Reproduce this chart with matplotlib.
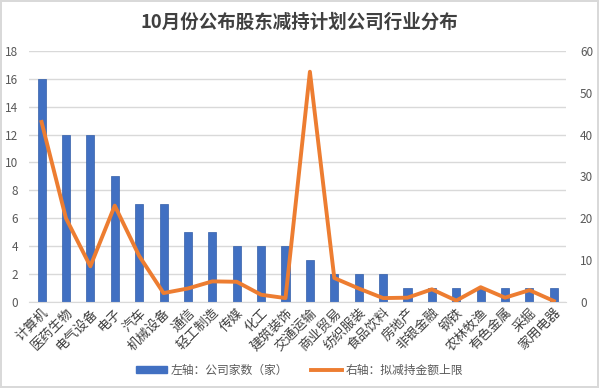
import matplotlib
matplotlib.use("Agg")
import matplotlib.pyplot as plt
from matplotlib.lines import Line2D
from matplotlib.patches import Patch

plt.rcParams['font.family'] = ['Noto Sans CJK SC', 'DejaVu Sans']

categories = ["计算机", "医药生物", "电气设备", "电子", "汽车", "机械设备", "通信", "轻工制造",
              "传媒", "化工", "建筑装饰", "交通运输", "商业贸易", "纺织服装", "食品饮料", "房地产",
              "非银金融", "钢铁", "农林牧渔", "有色金属", "采掘", "家用电器"]
company_counts = [16, 12, 12, 9, 7, 7, 5, 5, 4, 4, 4, 3, 2, 2, 2, 1, 1, 1, 1, 1, 1, 1]
reduction_upper = [43, 20, 8.5, 23, 11, 2.1, 3.2, 4.9, 4.8, 1.7, 0.9, 55, 5.7, 3.2, 0.9, 1.0,
                   3.0, 0.3, 3.5, 1.0, 2.8, 0.2]
left_ticks = [0, 2, 4, 6, 8, 10, 12, 14, 16, 18]
right_ticks = [0, 10, 20, 30, 40, 50, 60]

fig = plt.figure(figsize=(5.99, 3.88), dpi=100)
fig.patch.set_facecolor('white')
fig.patch.set_edgecolor('#d9d9d9')
fig.patch.set_linewidth(1.5)

ax = fig.add_axes([0.049, 0.222, 0.896, 0.647])
x = list(range(len(categories)))
ax.bar(x, company_counts, width=0.33, color='#4170C2', edgecolor='#345ea8', linewidth=0.5, zorder=2)
ax.set_ylim(0, 18)
ax.set_yticks(left_ticks)
ax.set_xlim(-0.5, len(categories) - 0.5)
ax.grid(axis='y', color='#d9d9d9', linewidth=1, zorder=0)
ax.set_axisbelow(True)
for s in ['top', 'right', 'left']:
    ax.spines[s].set_visible(False)
ax.spines['bottom'].set_color('#d9d9d9')
ax.tick_params(axis='y', length=0, labelsize=8.5, labelcolor='#595959', pad=8)
ax.tick_params(axis='x', length=0, labelsize=9.5, labelcolor='#404040', pad=3)
ax.set_xticks(x)
ax.set_xticklabels(categories, rotation=45, ha='right', rotation_mode='anchor')

ax2 = ax.twinx()
ax2.plot(x, reduction_upper, color='#ED7D31', linewidth=2.8, zorder=3, solid_joinstyle='round')
ax2.set_ylim(0, 60)
ax2.set_yticks(right_ticks)
for s in ['top', 'right', 'left', 'bottom']:
    ax2.spines[s].set_visible(False)
ax2.tick_params(axis='y', length=0, labelsize=8.5, labelcolor='#595959', pad=10)

fig.text(0.5, 0.943, "10月份公布股东减持计划公司行业分布", ha='center', va='center',
         fontsize=13.3, fontweight='bold', color='#404040')

handles = [Patch(facecolor='#4170C2', edgecolor='#4170C2'),
           Line2D([0], [0], color='#ED7D31', linewidth=2.8)]
labels = ["左轴：公司家数（家）", "右轴：拟减持金额上限"]
fig.legend(handles, labels, loc='center', bbox_to_anchor=(0.5, 0.046), ncol=2, frameon=False,
           fontsize=8.5, labelcolor='#595959', handlelength=2.6, handleheight=0.5,
           columnspacing=2.0, handletextpad=0.3)

fig.savefig("out.png", dpi=100)
